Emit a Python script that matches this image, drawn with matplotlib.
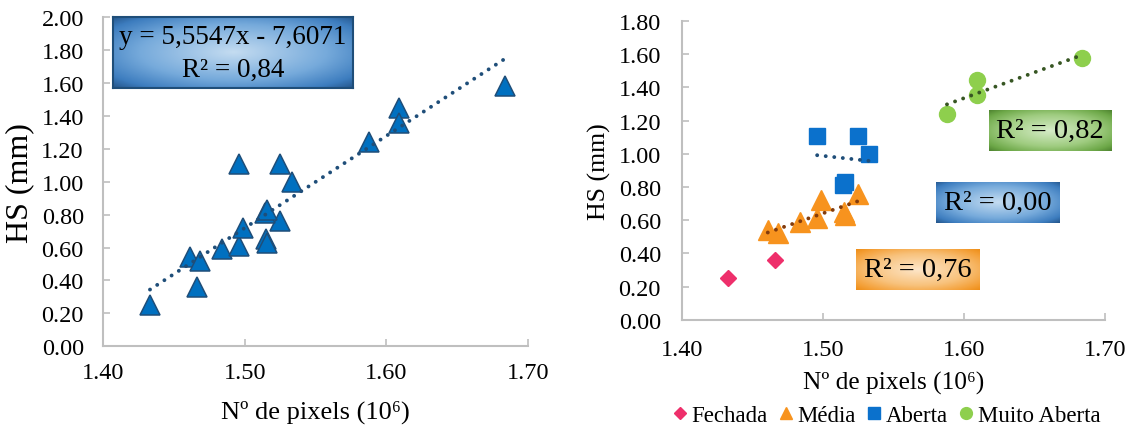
import matplotlib

matplotlib.use("Agg")
import matplotlib.pyplot as plt
import numpy as np
from matplotlib.colors import LinearSegmentedColormap
from matplotlib.lines import Line2D

plt.rcParams["font.family"] = ["Liberation Serif", "DejaVu Serif"]

# data (x in 10^6 pixels, y = HS in mm)
fechada_x = [1.433, 1.466]
fechada_y = [0.25, 0.36]
media_x = [1.461, 1.468, 1.484, 1.496, 1.499, 1.515, 1.516, 1.525]
media_y = [0.54, 0.52, 0.59, 0.61, 0.72, 0.65, 0.63, 0.76]
aberta_x = [1.496, 1.525, 1.533, 1.514, 1.516]
aberta_y = [1.11, 1.11, 1.00, 0.81, 0.83]
muito_x = [1.588, 1.609, 1.609, 1.684]
muito_y = [1.24, 1.445, 1.355, 1.58]

series_names = ["Fechada", "Média", "Aberta", "Muito Aberta"]
x_ticks = [1.40, 1.50, 1.60, 1.70]
left_yticks = [0.0, 0.2, 0.4, 0.6, 0.8, 1.0, 1.2, 1.4, 1.6, 1.8, 2.0]
right_yticks = [0.0, 0.2, 0.4, 0.6, 0.8, 1.0, 1.2, 1.4, 1.6, 1.8]

eq_text = "y = 5,5547x - 7,6071\nR² = 0,84"
r2_labels = ["R² = 0,76", "R² = 0,00", "R² = 0,82"]

GRID = "#BFBFBF"
DOTS = (0, (0.01, 2.2))


def style_axes(ax, xpad, ypad):
    for side in ["top", "right"]:
        ax.spines[side].set_visible(False)
    for side in ["left", "bottom"]:
        ax.spines[side].set_color(GRID)
        ax.spines[side].set_linewidth(1.5)
    ax.tick_params(direction="in", length=5, width=1.2, color=GRID, labelsize=17.5)
    ax.tick_params(axis="x", pad=xpad)
    ax.tick_params(axis="y", pad=ypad)
    ax.set_xlim(1.40, 1.70)
    ax.set_xticks(x_ticks)
    ax.xaxis.set_major_formatter(lambda v, p: f"{v:.2f}")
    ax.yaxis.set_major_formatter(lambda v, p: f"{v:.2f}")


def trend(ax, x, y, color):
    k, b = np.polyfit(x, y, 1)
    xs = np.array([min(x), max(x)])
    ax.plot(xs, k * xs + b, ls=DOTS, lw=2.8, color=color,
            dash_capstyle="round", zorder=5)


def gradient_box(fig, rect, stops, text, size, edge=None, spacing=1.1):
    bax = fig.add_axes(rect)
    yy, xx = np.mgrid[-1:1:120j, -1:1:240j]
    t = np.sqrt(xx ** 2 + yy ** 2) / np.sqrt(2)
    cmap = LinearSegmentedColormap.from_list("box", stops)
    bax.imshow(t, cmap=cmap, vmin=0, vmax=1, aspect="auto",
               extent=(0, 1, 0, 1), interpolation="bilinear")
    bax.set_xticks([])
    bax.set_yticks([])
    for s in bax.spines.values():
        if edge is None:
            s.set_visible(False)
        else:
            s.set_color(edge)
            s.set_linewidth(1.5)
    bax.text(0.5, 0.5, text, ha="center", va="center", fontsize=size,
             linespacing=spacing, transform=bax.transAxes)


fig = plt.figure(figsize=(11.36, 4.27), dpi=100)

# left panel: all points together
ax1 = fig.add_axes([0.0909, 0.1866, 0.3739, 0.7712])
all_x = fechada_x + media_x + aberta_x + muito_x
all_y = fechada_y + media_y + aberta_y + muito_y
ax1.plot(all_x, all_y, ls="none", marker="^", ms=15, mfc="#0070C0",
         mec="#1F4E79", mew=1.1, zorder=3)
trend(ax1, all_x, all_y, "#1F4E79")
style_axes(ax1, 11.5, 14)
ax1.set_ylim(0, 2.0)
ax1.set_yticks(left_yticks)
ax1.set_xlabel("Nº de pixels (10⁶)", fontsize=19, va="center")
ax1.xaxis.set_label_coords(0.5, -0.197)
ax1.set_ylabel("HS (mm)", fontsize=23, va="center")
ax1.yaxis.set_label_coords(-0.196, 0.5)

# right panel: by class
ax2 = fig.add_axes([0.6001, 0.2489, 0.3726, 0.6995])
ax2.plot(fechada_x, fechada_y, ls="none", marker="D", ms=7.7,
         color="#EE2F6B", zorder=3)
ax2.plot(media_x, media_y, ls="none", marker="^", ms=14.5,
         color="#F7931E", zorder=3)
ax2.plot(aberta_x, aberta_y, ls="none", marker="s", ms=12,
         color="#0B71CC", zorder=3)
ax2.plot(muito_x, muito_y, ls="none", marker="o", ms=11.5,
         color="#8ECF4D", zorder=3)
trend(ax2, media_x, media_y, "#843C0C")
trend(ax2, aberta_x, aberta_y, "#1F4E79")
trend(ax2, muito_x, muito_y, "#375623")
style_axes(ax2, 14, 15)
ax2.set_ylim(0, 1.8)
ax2.set_yticks(right_yticks)
ax2.set_xlabel("Nº de pixels (10⁶)", fontsize=18.3, va="center")
ax2.xaxis.set_label_coords(0.5, -0.2096)
ax2.set_ylabel("HS (mm)", fontsize=18.6, va="center")
ax2.yaxis.set_label_coords(-0.195, 0.5)

handles = [
    Line2D([], [], ls="none", marker="D", ms=6.5, color="#EE2F6B"),
    Line2D([], [], ls="none", marker="^", ms=9, color="#F7931E"),
    Line2D([], [], ls="none", marker="s", ms=9, color="#0B71CC"),
    Line2D([], [], ls="none", marker="o", ms=8.5, color="#8ECF4D"),
]
fig.legend(handles, series_names, loc="center", ncol=4, frameon=False,
           fontsize=16.5, bbox_to_anchor=(887.5 / 1136, 1 - 416.5 / 427),
           handlelength=0.5, handletextpad=0.25, columnspacing=0.55,
           borderpad=0, borderaxespad=0)

blue = [(0, "#C4DCF1"), (0.55, "#76AADB"), (0.85, "#3D7DBF"), (1, "#24558A")]
green = [(0, "#D6ECC8"), (0.55, "#9FCC80"), (0.85, "#6DA848"), (1, "#4E8330")]
orange = [(0, "#FDE6C9"), (0.55, "#F8C27C"), (0.85, "#F4A038"), (1, "#EE8D17")]

gradient_box(fig, [0.0992, 0.7909, 0.2115, 0.1663], blue, eq_text, 19.5,
             edge="#1F4E79", spacing=1.45)
gradient_box(fig, [0.7535, 0.3185, 0.1083, 0.0960], orange, r2_labels[0], 20.5)
gradient_box(fig, [0.8240, 0.4754, 0.1083, 0.0967], blue, r2_labels[1], 20.5)
gradient_box(fig, [0.8706, 0.6447, 0.1080, 0.0953], green, r2_labels[2], 20.5)

fig.savefig("out.png", dpi=100)
